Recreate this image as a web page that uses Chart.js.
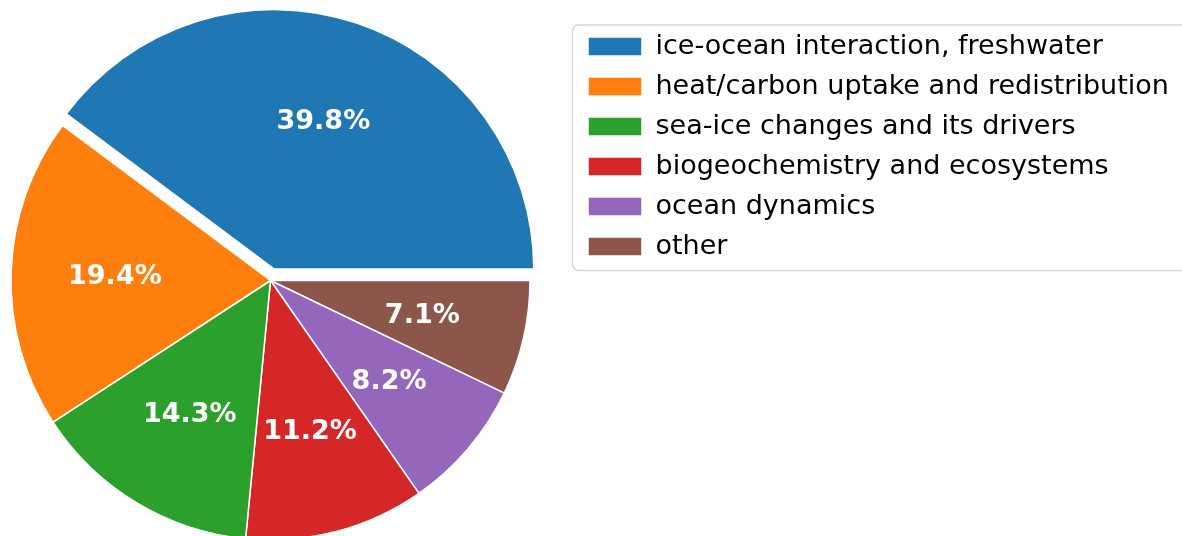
<!DOCTYPE html>
<html>
<head>
<meta charset="utf-8">
<script src="https://cdn.jsdelivr.net/npm/chart.js@4.4.0/dist/chart.umd.min.js"></script>
<style>
    html, body { margin: 0; padding: 0; background: #fff; overflow: hidden; width: 1182px; height: 536px; }
    #wrap { position: absolute; left: -34px; top: 0; }
</style>
</head>
<body>
<div id="wrap"><canvas id="topicPie" width="1240" height="560"></canvas></div>
<script>
const categories = [
    'ice-ocean interaction, freshwater',
    'heat/carbon uptake and redistribution',
    'sea-ice changes and its drivers',
    'biogeochemistry and ecosystems',
    'ocean dynamics',
    'other'
];
const counts = [39, 19, 14, 11, 8, 7];
const colors = ['#1f77b4', '#ff7f0e', '#2ca02c', '#d62728', '#9467bd', '#8c564b'];

// layout constants (pixels)
const FONT = 27, PAD = 13, BOX_W = 54, BOX_H = 19;
const RADIUS = 259.5, EXPLODE = 12, CX = 304.5, W = 1240;
const FAMILY = 'DejaVu Sans';

const total = counts.reduce((a, b) => a + b, 0);

// matplotlib goes counter-clockwise from 3 o'clock, Chart.js clockwise -> reverse order
const revLabels = categories.slice().reverse();
const revCounts = counts.slice().reverse();
const revColors = colors.slice().reverse();
const revExplode = categories.map((c, i) => i === 0 ? EXPLODE : 0).reverse();

// width the legend will ask for, so the pie centre lands where we want it
const mctx = document.createElement('canvas').getContext('2d');
mctx.font = FONT + 'px ' + FAMILY;
const maxText = Math.max(...categories.map(t => mctx.measureText(t).width));
const legendW = PAD + BOX_W + FONT / 2 + maxText + 10;
const avail = 2 * CX + Math.min(legendW, 2 * CX);

const legendFrame = {
    id: 'legendFrame',
    beforeDraw(chart) {
        const lg = chart.legend, c = chart.ctx;
        c.save();
        c.beginPath();
        c.roundRect(lg.left - 2.5, lg.top + 5, 700, 245.5, 6);
        c.fillStyle = '#fff';
        c.fill();
        c.strokeStyle = '#d6d6d6';
        c.lineWidth = 1.3;
        c.stroke();
        c.restore();
    }
};

const explodedArcs = {
    id: 'explodedArcs',
    beforeDatasetDraw(chart, args) {
        const c = chart.ctx;
        args.meta.data.forEach((arc, i) => {
            const mid = (arc.startAngle + arc.endAngle) / 2;
            c.save();
            c.translate(Math.cos(mid) * revExplode[i], Math.sin(mid) * revExplode[i]);
            arc.draw(c);
            c.restore();
        });
        return false;
    }
};

const pctLabels = {
    id: 'pctLabels',
    afterDatasetsDraw(chart) {
        const c = chart.ctx;
        const meta = chart.getDatasetMeta(0);
        c.save();
        c.font = 'bold ' + FONT + 'px ' + FAMILY;
        c.fillStyle = '#fff';
        c.textAlign = 'center';
        c.textBaseline = 'middle';
        meta.data.forEach((arc, i) => {
            const mid = (arc.startAngle + arc.endAngle) / 2;
            const d = arc.outerRadius * 0.6 + revExplode[i];
            const txt = (revCounts[i] / total * 100).toFixed(1) + '%';
            c.fillText(txt, arc.x + Math.cos(mid) * d, arc.y + Math.sin(mid) * d + 1);
        });
        c.restore();
    }
};

Chart.defaults.font.family = FAMILY;
Chart.defaults.color = '#000';

new Chart(document.getElementById('topicPie'), {
    type: 'pie',
    data: {
        labels: revLabels,
        datasets: [{
            data: revCounts,
            backgroundColor: revColors,
            borderColor: '#fff',
            borderWidth: 1.5,
            radius: RADIUS
        }]
    },
    options: {
        responsive: false,
        animation: false,
        events: [],
        rotation: 90,
        layout: { padding: { left: 0, top: 20, bottom: 19, right: W - avail } },
        plugins: {
            tooltip: { enabled: false },
            legend: {
                position: 'right',
                align: 'start',
                reverse: true,
                labels: {
                    boxWidth: BOX_W,
                    boxHeight: BOX_H,
                    padding: PAD,
                    color: '#000',
                    font: { size: FONT, family: FAMILY }
                }
            }
        }
    },
    plugins: [legendFrame, explodedArcs, pctLabels]
});
</script>
</body>
</html>
